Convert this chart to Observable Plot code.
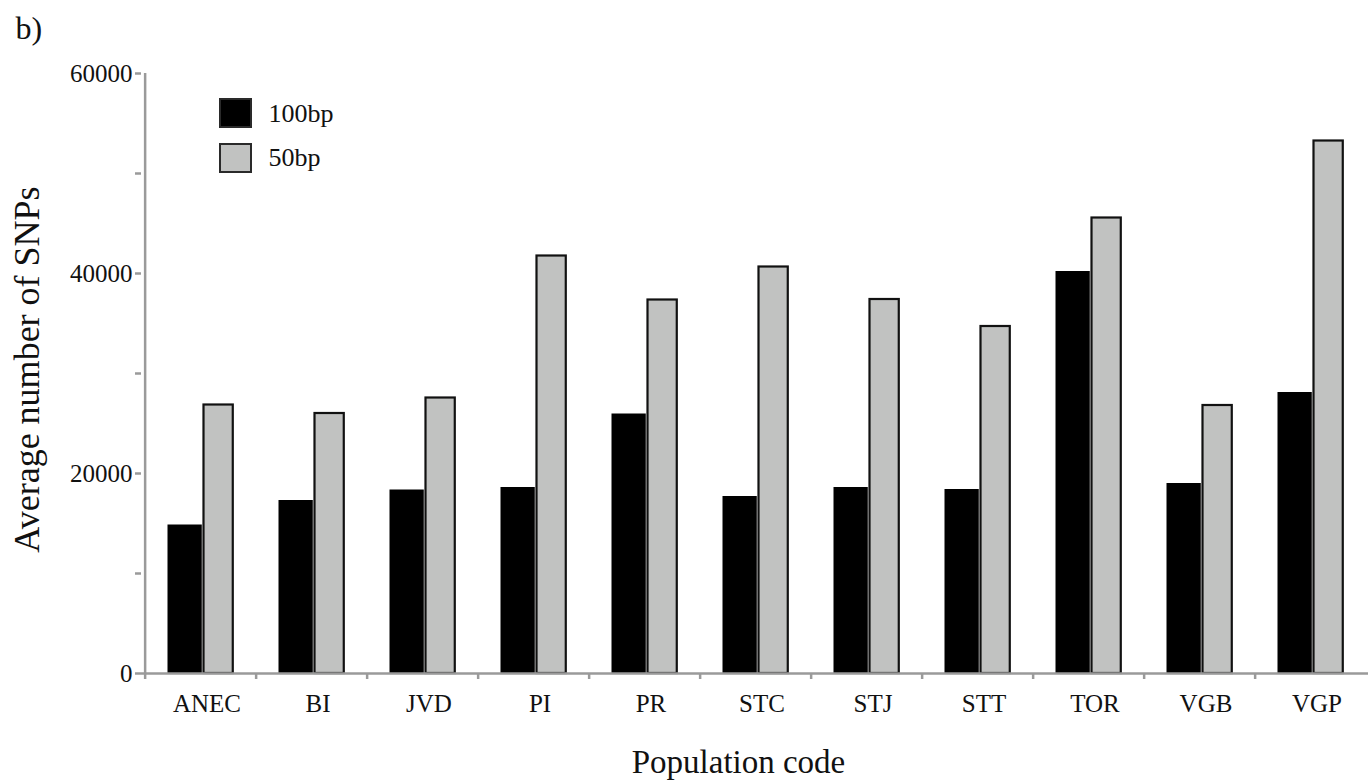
<!DOCTYPE html>
<html>
<head>
<meta charset="utf-8">
<script src="https://cdn.jsdelivr.net/npm/d3@7"></script>
<script src="https://cdn.jsdelivr.net/npm/@observablehq/plot@0.6"></script>
<style>
  html, body { margin: 0; padding: 0; background: #fff; }
  #wrap { position: relative; width: 1368px; height: 783px; overflow: hidden; color: #111; }
  #wrap svg { position: absolute; left: 0; top: 0; }
  .sw { position: absolute; left: 219px; width: 29px; height: 26px; border: 2px solid #2a2a2a; }
</style>
</head>
<body>
<div id="wrap"></div>
<script>
// ---- data ----
const categories = ["ANEC", "BI", "JVD", "PI", "PR", "STC", "STJ", "STT", "TOR", "VGB", "VGP"];
const seriesNames = ["100bp", "50bp"];
const values100bp = [14850, 17300, 18350, 18600, 25950, 17700, 18600, 18400, 40200, 19000, 28100];
const values50bp  = [26850, 26000, 27550, 41750, 37350, 40650, 37400, 34700, 45550, 26800, 53250];
const yTickValues = [0, 10000, 20000, 30000, 40000, 50000, 60000];
const yLabelValues = [0, 20000, 40000, 60000];
const yTitle = "Average number of SNPs";
const xTitle = "Population code";
const panelLabel = "b)";

const seriesColors = { "100bp": "#000000", "50bp": "#c1c2c1" };

const rows100 = categories.map((c, i) => ({ cat: c, series: seriesNames[0], value: values100bp[i] }));
const rows50  = categories.map((c, i) => ({ cat: c, series: seriesNames[1], value: values50bp[i] }));

const x0 = 141, x1 = 1370;
const bw = (x1 - x0) / categories.length;
const axisGray = "#9a9a9a";
const serif = "'Liberation Serif', 'Times New Roman', serif";
const ink = "#111";

const chart = Plot.plot({
  width: 1368,
  height: 783,
  marginTop: 73,
  marginBottom: 110,
  marginLeft: 141,
  marginRight: 0,
  style: { fontFamily: serif, background: "transparent", color: ink, overflow: "visible" },
  x: { domain: categories, range: [x0, x1], padding: 0, label: null },
  y: { domain: [0, 60000], range: [673, 73], label: null },
  marks: [
    Plot.barY(rows100, { x: "cat", y: "value", fill: seriesColors["100bp"], insetLeft: 22.5, insetRight: bw - 57.5 }),
    Plot.barY(rows50, { x: "cat", y: "value", fill: seriesColors["50bp"], stroke: ink, strokeWidth: 2.2, insetLeft: 58.5, insetRight: bw - 88.5 }),
    Plot.ruleY([0], { stroke: axisGray, strokeWidth: 2.5 }),
    Plot.ruleX([categories[0]], { x: d => d, y1: 0, y2: 60000, dx: -bw / 2, stroke: axisGray, strokeWidth: 2.5 }),
    Plot.axisY({ ticks: yTickValues, tickSize: 6, text: null, stroke: axisGray, strokeWidth: 2.5, label: null }),
    Plot.axisY({ ticks: yLabelValues, tickSize: 0, tickPadding: 9, fontSize: 25, tickFormat: d => String(d), label: null, fill: ink, fontFamily: serif }),
    Plot.axisX({ tickSize: 6, text: null, dx: -bw / 2, stroke: axisGray, strokeWidth: 2.5, label: null }),
    Plot.axisX({ tickSize: 0, tickPadding: 21, fontSize: 25, dx: 6, label: null, fill: ink, fontFamily: serif }),
    // titles
    Plot.text([yTitle], { text: d => d, frameAnchor: "left", rotate: -90, textAnchor: "middle", lineAnchor: "middle",
                          dx: -114, dy: -4, fontSize: 36, fill: ink, fontFamily: serif }),
    Plot.text([xTitle], { text: d => d, frameAnchor: "bottom", textAnchor: "middle", lineAnchor: "middle",
                          dx: -16.5, dy: 89.4, fontSize: 33, fill: ink, fontFamily: serif }),
    Plot.text([panelLabel], { text: d => d, frameAnchor: "top-left", textAnchor: "start", lineAnchor: "middle",
                          dx: -126, dy: -45.2, fontSize: 32, fill: ink, fontFamily: serif }),
    // legend labels
    Plot.text([seriesNames[0]], { text: d => d, frameAnchor: "top-left", textAnchor: "start", lineAnchor: "middle",
                          dx: 127, dy: 40.4, fontSize: 26, fill: ink, fontFamily: serif }),
    Plot.text([seriesNames[1]], { text: d => d, frameAnchor: "top-left", textAnchor: "start", lineAnchor: "middle",
                          dx: 127, dy: 84.4, fontSize: 26, fill: ink, fontFamily: serif })
  ]
});

const wrap = document.getElementById("wrap");
wrap.appendChild(chart);

// legend swatches
const legendTops = [98, 143];
seriesNames.forEach((s, i) => {
  const d = document.createElement("div");
  d.className = "sw";
  d.style.top = legendTops[i] + "px";
  d.style.background = seriesColors[s];
  wrap.appendChild(d);
});
</script>
</body>
</html>
